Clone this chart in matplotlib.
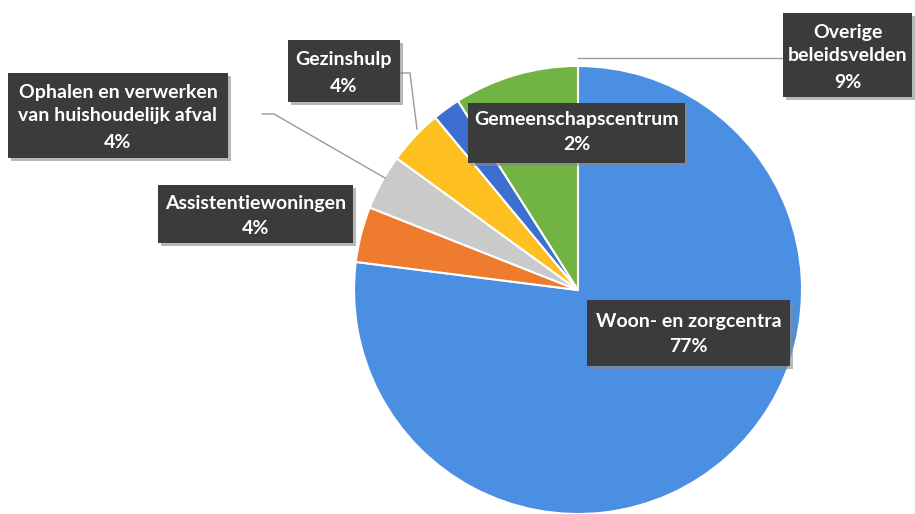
import matplotlib
matplotlib.use("Agg")
import matplotlib.pyplot as plt
import matplotlib.patheffects as pe
from matplotlib.patches import Rectangle

categories = ["Woon- en zorgcentra", "Assistentiewoningen",
              "Ophalen en verwerken\nvan huishoudelijk afval", "Gezinshulp",
              "Gemeenschapscentrum", "Overige\nbeleidsvelden"]
values = [77, 4, 4, 4, 2, 9]
colors = ["#4b8fe2", "#ef7b2f", "#cacaca", "#fdc020", "#3d6fd0", "#72b443"]
explode = [0.015, 0, 0, 0, 0, 0.055]

W, H = 915, 514
fig = plt.figure(figsize=(W / 100, H / 100), dpi=100)
ax = fig.add_axes([0, 0, 1, 1])

cx, cy, r = 578, H - 290, 224
ax.pie(values, colors=colors, startangle=90, counterclock=False,
       explode=explode, center=(cx, cy), radius=r, frame=True,
       wedgeprops=dict(edgecolor="white", linewidth=1.5))
ax.set_xlim(0, W)
ax.set_ylim(0, H)
ax.set_aspect("equal")
ax.axis("off")

# leader lines (pixel positions, y from top)
lines = [
    [(262, 114), (274, 114), (385, 178)],
    [(399, 73), (410, 73), (417, 129)],
    [(578, 58), (783, 58)],
]
for pts in lines:
    xs = [p[0] for p in pts]
    ys = [H - p[1] for p in pts]
    ax.plot(xs, ys, color="#9a9a9a", lw=1.0, zorder=3)

# label boxes: (x0, x1, y0, y1) from top-left, name centre y, percent centre y
boxes = [(587, 790, 300, 366), (158, 353, 185, 243), (8, 228, 73, 158),
         (288, 400, 40, 102), (468, 685, 103, 163), (783, 912, 13, 97)]
name_y = [322, 203, 104, 60, 120, 44]
pct_y = [347, 229, 142, 87, 145, 83]

font = dict(fontsize=14, family=["Lato", "DejaVu Sans"], fontweight="bold",
            color="white", linespacing=1.4, zorder=6, ha="center", va="center")
for name, v, (x0, x1, y0, y1), ny, py in zip(categories, values, boxes, name_y, pct_y):
    rect = Rectangle((x0, H - y1), x1 - x0, y1 - y0, facecolor="#3b3b3b",
                     edgecolor="none", zorder=5)
    rect.set_path_effects([pe.withSimplePatchShadow(offset=(2.5, -2.5),
                                                    shadow_rgbFace="#888888", alpha=0.6)])
    ax.add_patch(rect)
    xc = (x0 + x1) / 2
    ax.text(xc, H - ny, name, **font)
    ax.text(xc, H - py, f"{v}%", **font)

fig.savefig("out.png", dpi=100)
